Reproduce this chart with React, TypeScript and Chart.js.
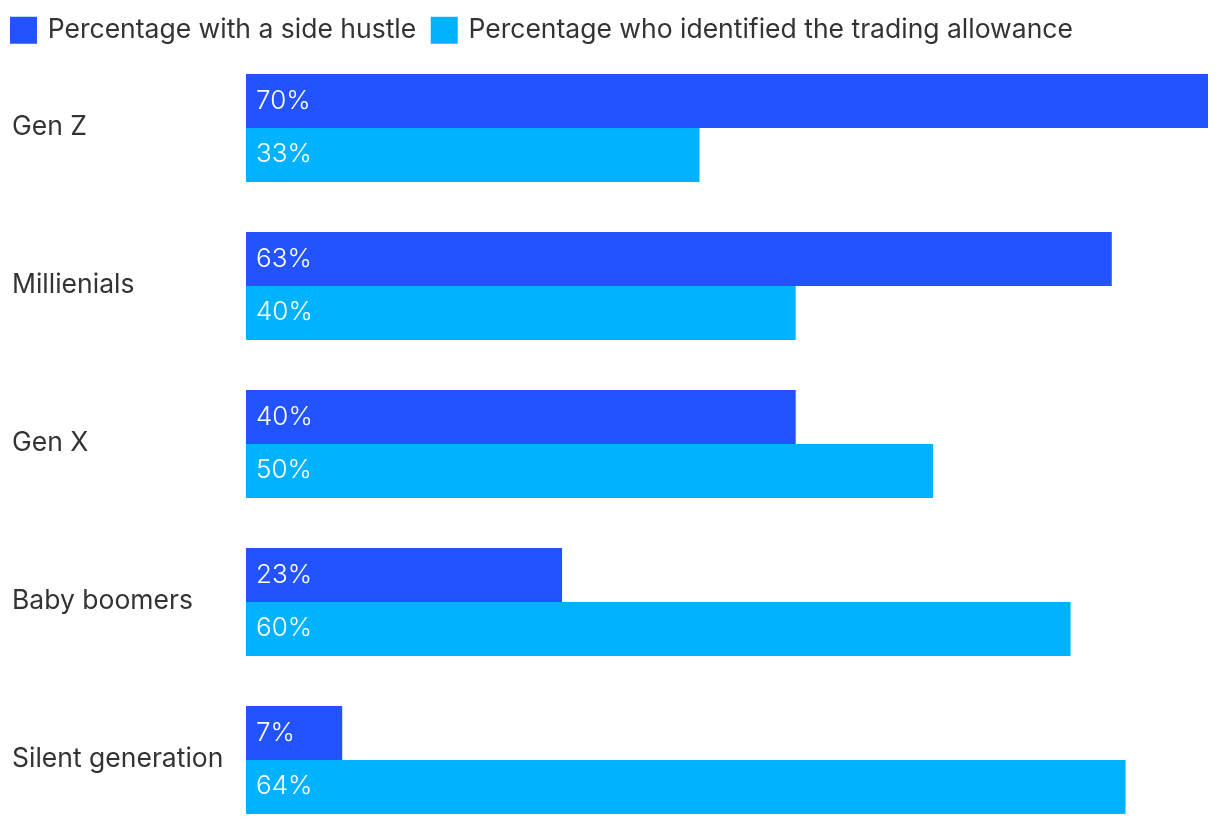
import React, { useEffect, useRef } from "react";
import { Chart, registerables } from "chart.js";

Chart.register(...registerables);

const categories = ["Gen Z", "Millienials", "Gen X", "Baby boomers", "Silent generation"];
const sideHustle = [70, 63, 40, 23, 7];
const tradingAllowance = [33, 40, 50, 60, 64];
const seriesNames = ["Percentage with a side hustle", "Percentage who identified the trading allowance"];
const colors = ["#2253FF", "#00B2FF"];

const FONT = "Inter, 'Open Sans', sans-serif";

const valueLabels = {
  id: "valueLabels",
  afterDatasetsDraw(chart: any) {
    const ctx = chart.ctx;
    ctx.save();
    ctx.fillStyle = "#ffffff";
    ctx.font = `300 26px ${FONT}`;
    ctx.textAlign = "left";
    ctx.textBaseline = "alphabetic";
    chart.data.datasets.forEach((ds: any, di: number) => {
      const meta = chart.getDatasetMeta(di);
      meta.data.forEach((el: any, i: number) => {
        ctx.fillText(`${ds.data[i]}%`, el.base + 10, el.y + 7.5);
      });
    });
    ctx.restore();
  },
};

const legendTweak = {
  id: "legendTweak",
  beforeInit(chart: any) {
    const legend = chart.legend;
    if (!legend) return;
    const fit = legend.fit;
    legend.fit = function () {
      fit.call(this);
      this.height = 49;
    };
  },
  afterLayout(chart: any) {
    if (chart.legend) chart.legend.left = -4.5;
  },
};

export default function App() {
  const ref = useRef<HTMLCanvasElement>(null);
  useEffect(() => {
    if (!ref.current) return;
    const chart = new Chart(ref.current, {
      type: "bar",
      data: {
        labels: categories,
        datasets: [
          { label: seriesNames[0], data: sideHustle, backgroundColor: colors[0], borderWidth: 0 },
          { label: seriesNames[1], data: tradingAllowance, backgroundColor: colors[1], borderWidth: 0 },
        ],
      },
      options: {
        indexAxis: "y",
        responsive: false,
        animation: false,
        datasets: { bar: { categoryPercentage: 0.6835, barPercentage: 1 } },
        layout: { padding: { left: 12, right: 12, top: 0, bottom: 21 } },
        scales: {
          x: { display: false, min: 0, max: 70 },
          y: {
            grid: { display: false },
            border: { display: false },
            ticks: {
              crossAlign: "far",
              color: "#333333",
              labelOffset: -1,
              font: { family: FONT, size: 26.5 },
            },
            afterFit(scale: any) {
              scale.width = 234;
            },
          },
        },
        plugins: {
          tooltip: { enabled: false },
          legend: {
            position: "top",
            align: "start",
            labels: {
              boxWidth: 22,
              boxHeight: 22,
              padding: 17,
              color: "#333333",
              font: { family: FONT, size: 26.5 },
              generateLabels(c: any) {
                const items = Chart.defaults.plugins.legend.labels.generateLabels(c);
                return items.map((it: any) => ({ ...it, lineWidth: 5, strokeStyle: it.fillStyle }));
              },
            },
          },
        },
      },
      plugins: [valueLabels, legendTweak],
    });
    return () => chart.destroy();
  }, []);
  return (
    <div style={{ position: "fixed", left: 0, top: 0, width: 1220, height: 824, overflow: "hidden", background: "#fff" }}>
      <canvas ref={ref} width={1220} height={860} style={{ display: "block" }} />
    </div>
  );
}
